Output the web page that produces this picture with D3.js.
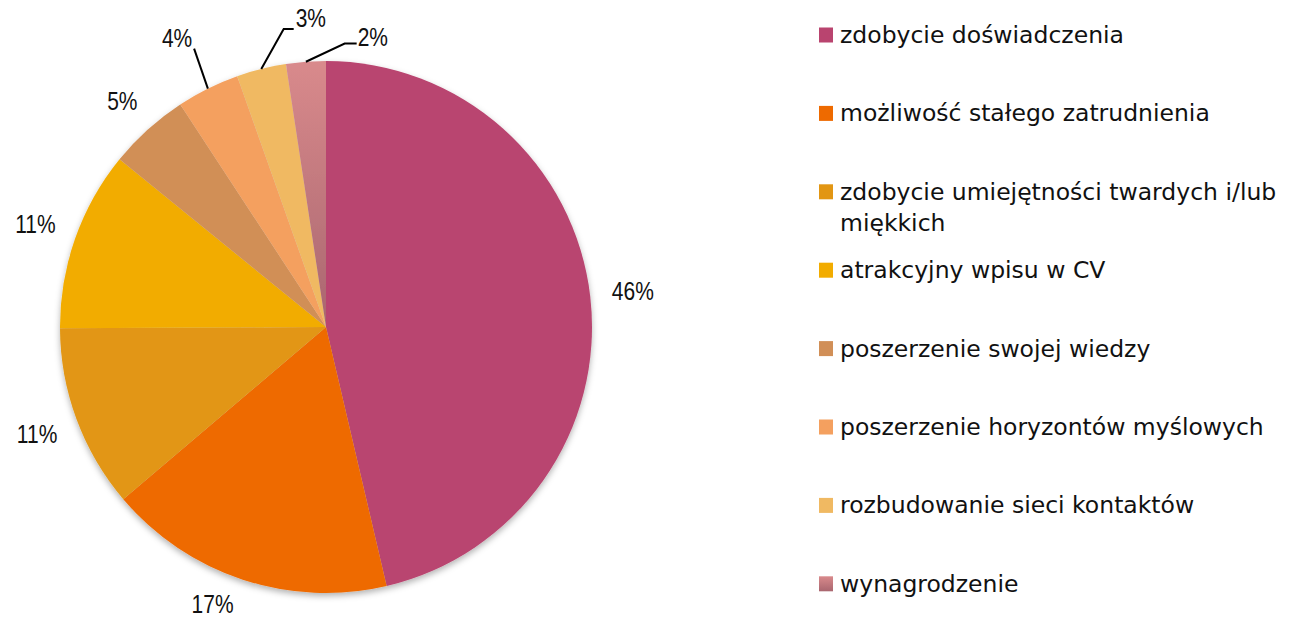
<!DOCTYPE html>
<html>
<head>
<meta charset="utf-8">
<script src="https://cdn.jsdelivr.net/npm/d3@7"></script>
<style>
  body { margin: 0; background: #fff; }
  .pie__label { font-family: "Liberation Sans", Arial, sans-serif; font-size: 25px; fill: #111; }
  .legend__text { font-family: "DejaVu Sans", sans-serif; font-size: 23.5px; fill: #111; }
  .pie__leader { fill: none; stroke: #000; stroke-width: 2; }
</style>
</head>
<body>
<svg id="chart" width="1297" height="620"></svg>
<script>
// values (share of answers, %)
const categories = [
  'zdobycie doświadczenia',
  'możliwość stałego zatrudnienia',
  'zdobycie umiejętności twardych i/lub miękkich',
  'atrakcyjny wpisu w CV',
  'poszerzenie swojej wiedzy',
  'poszerzenie horyzontów myślowych',
  'rozbudowanie sieci kontaktów',
  'wynagrodzenie',
];
const values = [46.2, 17.4, 11.1, 10.9, 4.9, 3.8, 3.0, 2.4];
const colors = ['#B9446F', '#EE6A00', '#E29613', '#F2AC00', '#D18F57', '#F4A05F', '#F0B962', 'url(#roseGrad)'];

const config = {
  cx: 326,
  cy: 327,
  radius: 266,
  labelGap: 28,
  legendX: 819,
  legendTop: 35,
  legendStep: 78.4,
  legendWrap: 460,
};

// angle nudges (deg) for outside labels, to follow the reference's best-fit placement
const labelNudge = { 1: 4 };

// small slices get a leader line: elbow angle nudge (deg), elbow distance past the rim,
// horizontal tail length, label offset from the line end
const leaders = {
  5: { nudge: 1, out: 42, tail: 0, dx: -17, dy: -10, anchor: 'middle' },
  6: { nudge: 6, out: 35, tail: 10, dx: 2, dy: -11, anchor: 'start' },
  7: { nudge: 8.1, out: 18, tail: 12, dx: 1, dy: -6, anchor: 'start' },
};

const svg = d3.select('#chart');
const defs = svg.append('defs');

['roseGrad', 'roseGradLeg'].forEach(id => {
  const grad = defs.append('linearGradient')
    .attr('id', id).attr('x1', 0).attr('y1', 0).attr('x2', 0).attr('y2', 1);
  grad.append('stop').attr('offset', '0%').attr('stop-color', '#D98A8C');
  grad.append('stop').attr('offset', '100%').attr('stop-color', '#A9666F');
});

const shadow = defs.append('filter').attr('id', 'pieShadow')
  .attr('x', '-10%').attr('y', '-10%').attr('width', '120%').attr('height', '120%');
shadow.append('feDropShadow')
  .attr('dx', 0).attr('dy', 3).attr('stdDeviation', 3)
  .attr('flood-color', '#000').attr('flood-opacity', 0.3);

const total = d3.sum(values);
const pct = d3.format('.0%');

const pie = d3.pie().sort(null).value(d => d)(values);
const arc = d3.arc().innerRadius(0).outerRadius(config.radius);

const g = svg.append('g').attr('transform', `translate(${config.cx}, ${config.cy})`);

g.append('g')
  .attr('filter', 'url(#pieShadow)')
  .selectAll('path')
  .data(pie)
  .join('path')
  .attr('d', arc)
  .attr('fill', (d, i) => colors[i]);

const mid = d => (d.startAngle + d.endAngle) / 2;
const polar = (a, r) => [Math.sin(a) * r, -Math.cos(a) * r];

function addLabel(x, y, anchor, str) {
  // the reference uses a narrow face, so squeeze the glyphs horizontally
  g.append('text')
    .attr('class', 'pie__label')
    .attr('transform', `translate(${x}, ${y}) scale(0.84, 1)`)
    .attr('text-anchor', anchor)
    .attr('dominant-baseline', 'central')
    .text(str);
}

pie.forEach((d, i) => {
  const a = mid(d);
  const str = pct(d.value / total);
  const lead = leaders[i];
  if (!lead) {
    const la = a + (labelNudge[i] || 0) * Math.PI / 180;
    // wide label boxes sit further out when they are beside the pie
    const r = config.radius + config.labelGap + 15 * Math.abs(Math.sin(la));
    const [x, y] = polar(la, r);
    addLabel(x, y, 'middle', str);
    return;
  }
  const start = polar(a, config.radius);
  const elbow = polar(a + lead.nudge * Math.PI / 180, config.radius + lead.out);
  const end = [elbow[0] + lead.tail, elbow[1]];
  g.append('path')
    .attr('class', 'pie__leader')
    .attr('d', d3.line()(lead.tail ? [start, elbow, end] : [start, elbow]));
  addLabel(end[0] + lead.dx, end[1] + lead.dy, lead.anchor, str);
});

// legend
const rowY = d3.scaleLinear().domain([0, 1]).range([config.legendTop, config.legendTop + config.legendStep]);

const legend = svg.append('g').attr('class', 'legend');
categories.forEach((name, i) => {
  const y = rowY(i);
  legend.append('rect')
    .attr('x', config.legendX).attr('y', y - 7.5)
    .attr('width', 14).attr('height', 15)
    .attr('fill', i === 7 ? 'url(#roseGradLeg)' : colors[i]);

  const text = legend.append('text')
    .attr('class', 'legend__text')
    .attr('x', config.legendX + 21)
    .attr('y', y)
    .attr('dominant-baseline', 'central');

  const words = name.split(/\s+/);
  let line = [];
  let lineNo = 0;
  let tspan = text.append('tspan').attr('x', config.legendX + 21).attr('y', y);
  words.forEach(word => {
    line.push(word);
    tspan.text(line.join(' '));
    if (tspan.node().getComputedTextLength() > config.legendWrap && line.length > 1) {
      line.pop();
      tspan.text(line.join(' '));
      line = [word];
      lineNo += 1;
      tspan = text.append('tspan')
        .attr('x', config.legendX + 21)
        .attr('y', y + lineNo * 31)
        .text(word);
    }
  });
});
</script>
</body>
</html>
